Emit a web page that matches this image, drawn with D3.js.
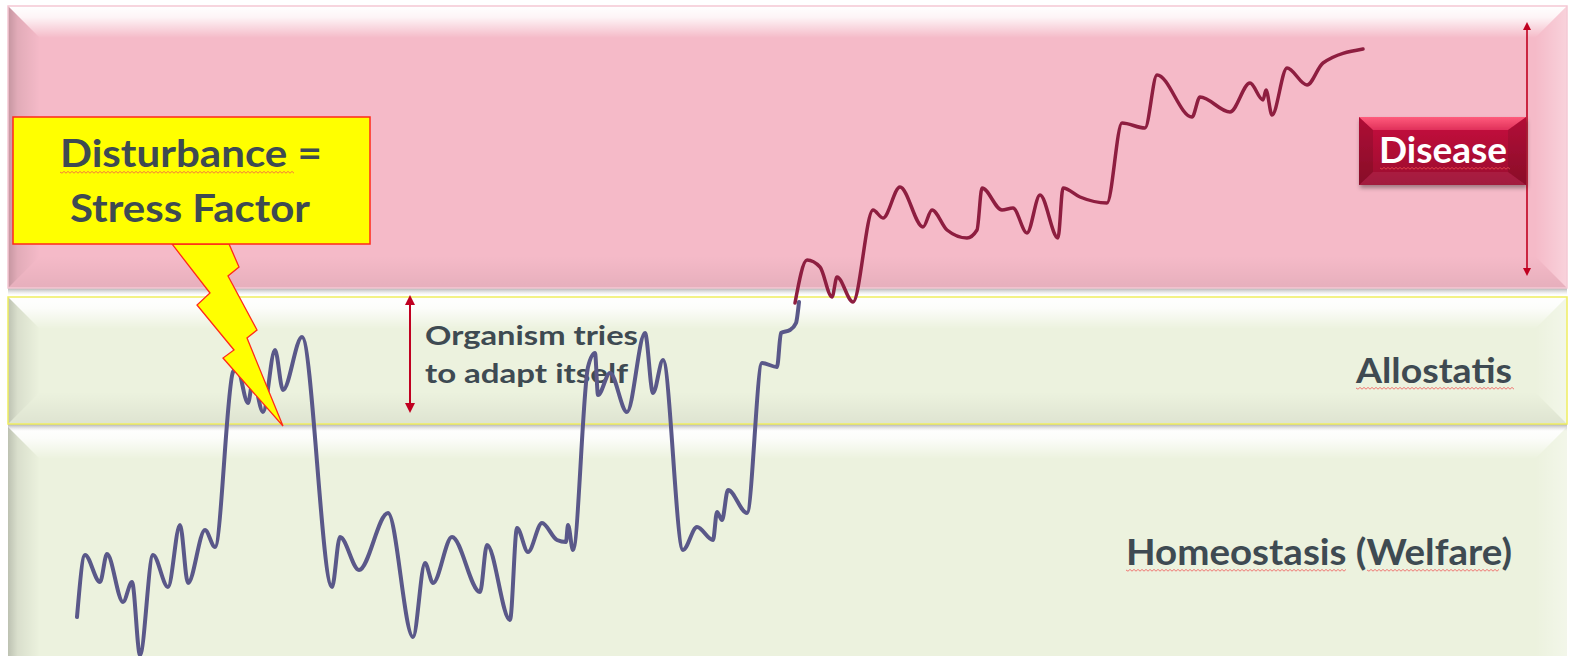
<!DOCTYPE html>
<html>
<head>
<meta charset="utf-8">
<script src="https://cdn.jsdelivr.net/npm/d3@7"></script>
<style>
body { margin: 0; background: #fff; }
svg text { font-family: Lato, "Open Sans", sans-serif; font-weight: 700; }
</style>
</head>
<body>
<script>
// SVG size
var width = 1569;
var height = 656;

// Zones, in level units (0 = bottom of the picture)
var zoneNames = ['Homeostasis (Welfare)', 'Allostatis', 'Disease'];
var zoneFrom = [-40, 232, 368];
var zoneTo = [229, 359, 650];

// Organism state while it still adapts (blue line)
var adaptTime = [77, 85, 100, 107, 123, 132, 140, 153, 168, 180, 188, 205, 215, 233, 237, 248, 253, 263, 275, 283,
    302, 332, 340, 359, 388, 413, 425, 433, 452, 480, 487, 510, 517, 528, 542, 557, 566, 568, 573, 588,
    595, 598, 610, 627, 645, 653, 663, 683, 697, 713, 717, 722, 728, 747, 762, 777, 781, 790, 796, 799];
var adaptLevel = [39, 101, 74, 102, 54, 74, 1, 101, 69, 131, 73, 126, 109, 284, 288, 253, 276, 244, 306, 266,
    319, 69, 119, 86, 143, 19, 93, 73, 119, 64, 111, 36, 128, 104, 133, 116, 114, 131, 106, 289,
    303, 261, 283, 244, 323, 263, 296, 106, 129, 116, 144, 136, 166, 143, 293, 289, 323, 326, 333, 354];

// Organism state once the disease sets in (red line)
var diseaseTime = [795, 807, 820, 832, 837, 853, 873, 883, 900, 923, 932, 947, 967, 977, 982, 1002, 1013, 1027, 1040,
    1058, 1063, 1080, 1107, 1122, 1145, 1157, 1192, 1200, 1230, 1250, 1263, 1266, 1272, 1287, 1307, 1323, 1363];
var diseaseLevel = [353, 396, 389, 359, 379, 354, 446, 438, 469, 429, 446, 426, 418, 426, 468, 446, 448, 423, 461,
    418, 468, 459, 453, 533, 528, 581, 539, 559, 544, 573, 556, 566, 541, 588, 571, 593, 607];

var svg = d3.select('body')
    .append('svg')
    .attr('width', width)
    .attr('height', height);

var xScale = d3.scaleLinear().domain([0, 1569]).range([0, width]);
var yScale = d3.scaleLinear().domain([0, 656]).range([height, 0]);

var defs = svg.append('defs');

function grad(id, x2, y2, stops) {
    var g = defs.append('linearGradient').attr('id', id)
        .attr('x1', 0).attr('y1', 0).attr('x2', x2).attr('y2', y2);
    stops.forEach(function(s) {
        g.append('stop').attr('offset', s[0]).attr('stop-color', s[1]).attr('stop-opacity', s[2]);
    });
}
grad('bevTop', 0, 1, [[0, '#fff', 1], [0.35, '#fff', 0.85], [1, '#fff', 0]]);
grad('bevLeft', 1, 0, [[0, '#000', 0.2], [0.3, '#000', 0.08], [1, '#000', 0]]);
grad('bevRight', 1, 0, [[0, '#fff', 0], [1, '#fff', 0.35]]);
grad('bevBottom', 0, 1, [[0, '#000', 0], [1, '#000', 0.06]]);
grad('shadow', 0, 1, [[0, '#888', 0.7], [1, '#ccc', 0]]);
grad('diseaseFill', 0, 1, [[0, '#c8103e', 1], [0.5, '#b00c36', 1], [1, '#9a0a2e', 1]]);
grad('diseaseTop', 0, 1, [[0, '#ff5c7c', 1], [1, '#e0305a', 1]]);

defs.append('filter').attr('id', 'drop')
    .attr('x', '-10%').attr('y', '-10%').attr('width', '130%').attr('height', '150%')
    .append('feDropShadow').attr('dx', 1).attr('dy', 3).attr('stdDeviation', 2)
    .attr('flood-color', '#000').attr('flood-opacity', 0.35);

var marker = function(id, orient) {
    defs.append('marker').attr('id', id)
        .attr('viewBox', '0 0 10 10').attr('refX', 5).attr('refY', 5)
        .attr('markerWidth', 5).attr('markerHeight', 5)
        .attr('markerUnits', 'strokeWidth')
        .attr('orient', orient)
        .append('path').attr('d', 'M0,0L10,5L0,10Z').attr('fill', '#c00020');
};
marker('arrowHead', 'auto-start-reverse');

// Bands with a bevelled look
var bandLeft = 8, bandRight = 1567;
var bandBase = ['#ecf2de', '#ecf2de', '#f5bac8'];
var bandStroke = ['none', '#f0ee60', '#f5c8d4'];

zoneNames.forEach(function(name, i) {
    var x0 = bandLeft, x1 = bandRight;
    var y0 = yScale(zoneTo[i]), y1 = yScale(zoneFrom[i]);
    var b = 32;
    var g = svg.append('g').attr('class', 'band');

    g.append('rect').attr('x', x0).attr('y', y1).attr('width', x1 - x0).attr('height', 7)
        .attr('fill', 'url(#shadow)');
    g.append('rect').attr('x', x0).attr('y', y0).attr('width', x1 - x0).attr('height', y1 - y0)
        .attr('fill', bandBase[i]);
    g.append('path')
        .attr('d', 'M' + x0 + ',' + y0 + 'L' + x1 + ',' + y0 + 'L' + (x1 - b) + ',' + (y0 + b) + 'L' + (x0 + b) + ',' + (y0 + b) + 'Z')
        .attr('fill', 'url(#bevTop)');
    g.append('path')
        .attr('d', 'M' + x0 + ',' + y0 + 'L' + (x0 + b) + ',' + (y0 + b) + 'L' + (x0 + b) + ',' + (y1 - b) + 'L' + x0 + ',' + y1 + 'Z')
        .attr('fill', 'url(#bevLeft)');
    g.append('path')
        .attr('d', 'M' + x1 + ',' + y0 + 'L' + (x1 - b) + ',' + (y0 + b) + 'L' + (x1 - b) + ',' + (y1 - b) + 'L' + x1 + ',' + y1 + 'Z')
        .attr('fill', 'url(#bevRight)');
    g.append('path')
        .attr('d', 'M' + x0 + ',' + y1 + 'L' + (x0 + b) + ',' + (y1 - b) + 'L' + (x1 - b) + ',' + (y1 - b) + 'L' + x1 + ',' + y1 + 'Z')
        .attr('fill', 'url(#bevBottom)');
    if (bandStroke[i] != 'none') {
        g.append('rect').attr('x', x0).attr('y', y0).attr('width', x1 - x0).attr('height', y1 - y0)
            .attr('fill', 'none').attr('stroke', bandStroke[i]).attr('stroke-width', 1.5);
    }
});

// Red wavy spell-check underline
function squiggle(xa, xb, yy) {
    var d = 'M' + xa + ',' + yy;
    for (var k = xa + 2; k <= xb; k += 2) {
        d += 'L' + k + ',' + (yy + ((k - xa) / 2 % 2 ? 1.2 : -0.6));
    }
    svg.append('path').attr('d', d).attr('fill', 'none')
        .attr('stroke', '#f05050').attr('stroke-width', 0.9).attr('opacity', 0.85);
}

var textColor = '#3e4a52';

// Zone labels
svg.append('text')
    .attr('x', 1356).attr('y', 383)
    .attr('font-size', 34).attr('fill', textColor)
    .attr('textLength', 156).attr('lengthAdjust', 'spacingAndGlyphs')
    .text(zoneNames[1]);
squiggle(1356, 1515, 388);

svg.append('text')
    .attr('x', 1126).attr('y', 565)
    .attr('font-size', 36).attr('fill', textColor)
    .attr('textLength', 386).attr('lengthAdjust', 'spacingAndGlyphs')
    .text(zoneNames[0]);
squiggle(1126, 1347, 570);
squiggle(1367, 1500, 570);

// Disease arrow and label
svg.append('line')
    .attr('x1', 1527).attr('x2', 1527).attr('y1', 26).attr('y2', 272)
    .attr('stroke', '#c00020').attr('stroke-width', 1.6)
    .attr('marker-start', 'url(#arrowHead)').attr('marker-end', 'url(#arrowHead)');

var dg = svg.append('g').attr('filter', 'url(#drop)');
dg.append('rect').attr('x', 1359).attr('y', 117).attr('width', 167).attr('height', 68)
    .attr('fill', 'url(#diseaseFill)');
dg.append('path').attr('d', 'M1359,117L1526,117L1508,130L1373,130Z').attr('fill', 'url(#diseaseTop)');
dg.append('path').attr('d', 'M1359,117L1373,130L1373,172L1359,185Z').attr('fill', '#000').attr('opacity', 0.12);
dg.append('path').attr('d', 'M1526,117L1508,130L1508,172L1526,185Z').attr('fill', '#000').attr('opacity', 0.1);
dg.append('path').attr('d', 'M1359,185L1373,172L1508,172L1526,185Z').attr('fill', '#fff').attr('opacity', 0.08);
svg.append('text')
    .attr('x', 1379).attr('y', 163)
    .attr('font-size', 36).attr('fill', '#fff')
    .attr('textLength', 128).attr('lengthAdjust', 'spacingAndGlyphs')
    .text(zoneNames[2]);
squiggle(1380, 1510, 168);

// Adaptation arrow and note
svg.append('line')
    .attr('x1', 410).attr('x2', 410).attr('y1', 300).attr('y2', 408)
    .attr('stroke', '#c00020').attr('stroke-width', 2)
    .attr('marker-start', 'url(#arrowHead)').attr('marker-end', 'url(#arrowHead)');
svg.append('text')
    .attr('x', 425).attr('y', 345)
    .attr('font-size', 27).attr('fill', textColor)
    .attr('textLength', 213).attr('lengthAdjust', 'spacingAndGlyphs')
    .text('Organism tries');
svg.append('text')
    .attr('x', 425).attr('y', 383)
    .attr('font-size', 27).attr('fill', textColor)
    .attr('textLength', 203).attr('lengthAdjust', 'spacingAndGlyphs')
    .text('to adapt itself');

// Lines
var line = d3.line()
    .x(function(d) { return xScale(d[0]); })
    .y(function(d) { return yScale(d[1]); })
    .curve(d3.curveMonotoneX);

svg.append('path')
    .datum(d3.zip(adaptTime, adaptLevel))
    .attr('d', line)
    .attr('fill', 'none')
    .attr('stroke', '#5a5889')
    .attr('stroke-width', 4)
    .attr('stroke-linejoin', 'round')
    .attr('stroke-linecap', 'round');

svg.append('path')
    .datum(d3.zip(diseaseTime, diseaseLevel))
    .attr('d', line)
    .attr('fill', 'none')
    .attr('stroke', '#8e1e40')
    .attr('stroke-width', 3.5)
    .attr('stroke-linejoin', 'round')
    .attr('stroke-linecap', 'round');

// Stress factor callout with lightning bolt
svg.append('path')
    .attr('d', 'M172,244L229,244L239,267L228,276L257,330L247,338L283,426L223,358L234,350L197,305L210,293Z')
    .attr('fill', '#ffff00')
    .attr('stroke', '#ff2a1a')
    .attr('stroke-width', 1.3)
    .attr('stroke-linejoin', 'miter');

svg.append('rect')
    .attr('x', 13).attr('y', 117).attr('width', 357).attr('height', 127)
    .attr('fill', '#ffff00')
    .attr('stroke', '#ff2a1a')
    .attr('stroke-width', 1.5);

svg.append('text')
    .attr('x', 60).attr('y', 167)
    .attr('font-size', 38).attr('fill', textColor)
    .attr('textLength', 262).attr('lengthAdjust', 'spacingAndGlyphs')
    .text('Disturbance =');
squiggle(60, 294, 172);

svg.append('text')
    .attr('x', 70).attr('y', 222)
    .attr('font-size', 38).attr('fill', textColor)
    .attr('textLength', 240).attr('lengthAdjust', 'spacingAndGlyphs')
    .text('Stress Factor');
</script>
</body>
</html>
